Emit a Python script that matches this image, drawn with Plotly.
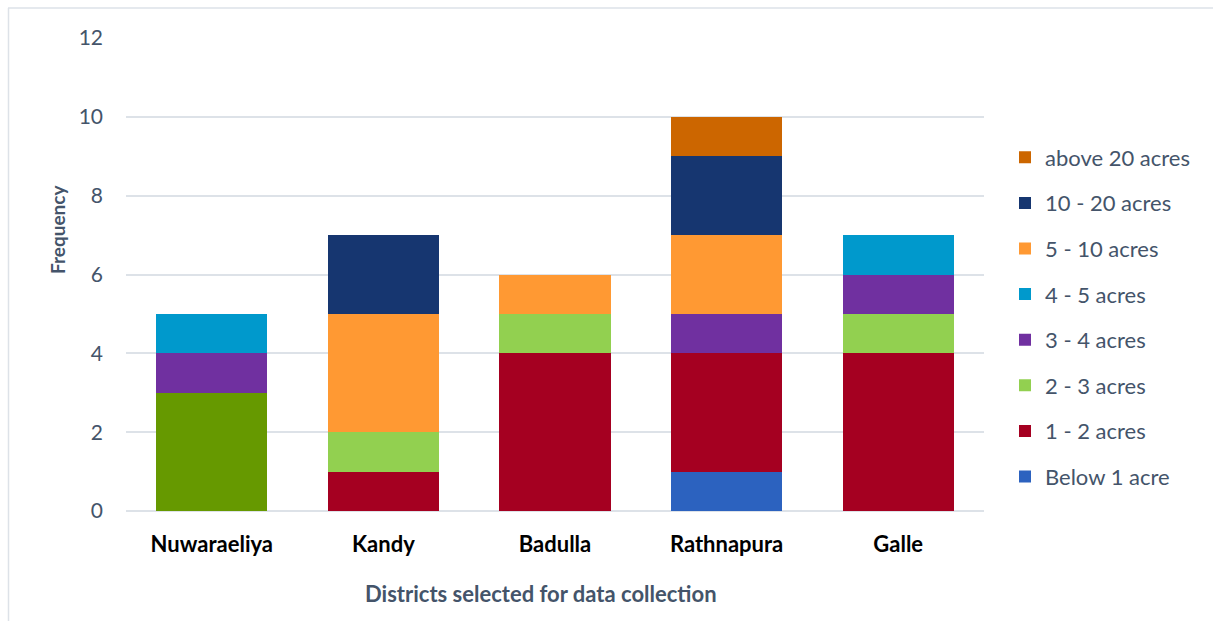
import plotly.graph_objects as go

districts = ["Nuwaraeliya", "Kandy", "Badulla", "Rathnapura", "Galle"]

below_1 = [0, 0, 0, 1, 0]
acres_1_2 = [0, 1, 4, 3, 4]
acres_2_3 = [3, 1, 1, 0, 1]
acres_3_4 = [1, 0, 0, 1, 1]
acres_4_5 = [1, 0, 0, 0, 1]
acres_5_10 = [0, 3, 1, 2, 0]
acres_10_20 = [0, 2, 0, 2, 0]
above_20 = [0, 0, 0, 1, 0]

series_names = ["Below 1 acre", "1 - 2 acres", "2 - 3 acres", "3 - 4 acres",
                "4 - 5 acres", "5 - 10 acres", "10 - 20 acres", "above 20 acres"]
series_values = [below_1, acres_1_2, acres_2_3, acres_3_4,
                 acres_4_5, acres_5_10, acres_10_20, above_20]
series_colors = ["#2C62BF", "#A50021", "#92D050", "#7030A0",
                 "#0099CC", "#FF9933", "#163670", "#CC6600"]

# district whose 2 - 3 acres segment is drawn in a deeper green
highlight_district = "Nuwaraeliya"
highlight_color = "#669900"

yticks = [0, 2, 4, 6, 8, 10, 12]

FONT = "Lato, Calibri, sans-serif"
SLATE = "#44546A"
GRID = "#DDE2E8"

# plot-area geometry in pixels
L, R, T, B = 126, 984, 38, 511
W, H = R - L, B - T


def px_x(p):
    return (p - L) / W


def px_y(p):
    return (B - p) / H


fig = go.Figure()
n = len(series_names)
for i, (name, vals, col) in enumerate(zip(series_names, series_values, series_colors)):
    if name == "2 - 3 acres":
        hi = [v if d == highlight_district else 0 for d, v in zip(districts, vals)]
        fig.add_trace(go.Bar(
            name=name, x=districts, y=hi,
            marker=dict(color=highlight_color, line=dict(width=0)),
            showlegend=False, hoverinfo="x+y+name",
        ))
        vals = [0 if d == highlight_district else v for d, v in zip(districts, vals)]
    fig.add_trace(go.Bar(
        name=name, x=districts, y=vals,
        marker=dict(color=col, line=dict(width=0)),
        legendgroup=f"g{i}",
        legendrank=(n - i) * 10,
        hoverinfo="x+y+name",
    ))

fig.update_layout(
    barmode="stack",
    bargap=0.353,
    width=1214, height=621,
    margin=dict(l=L, r=1214 - R, t=T, b=621 - B),
    paper_bgcolor="white",
    plot_bgcolor="white",
    font=dict(family=FONT, color=SLATE, size=22),
    showlegend=True,
    legend=dict(
        tracegroupgap=14,
        x=px_x(1005), xanchor="left",
        y=px_y(317), yanchor="middle",
        font=dict(size=22, color=SLATE, family=FONT),
        itemwidth=30,
    ),
    xaxis=dict(
        showgrid=False, showline=False, zeroline=False,
        tickfont=dict(family=FONT, size=22, color="#000000", weight="bold"),
        ticklabelstandoff=18,
    ),
    yaxis=dict(
        range=[0, 12], tickvals=yticks,
        showgrid=True, gridcolor=GRID, gridwidth=1.5,
        zeroline=True, zerolinecolor=GRID, zerolinewidth=1.5,
        showline=False,
        tickfont=dict(family=FONT, size=21, color=SLATE),
        ticklabelstandoff=22,
    ),
    annotations=[
        dict(text="<b>Frequency</b>", xref="paper", yref="paper",
             x=px_x(57), y=px_y(230), xanchor="center", yanchor="middle",
             textangle=-90, showarrow=False,
             font=dict(family=FONT, size=19, color=SLATE)),
        dict(text="<b>Districts selected for data collection</b>",
             xref="paper", yref="paper",
             x=px_x(541), y=px_y(593), xanchor="center", yanchor="middle",
             showarrow=False,
             font=dict(family=FONT, size=22, color=SLATE)),
    ],
    shapes=[
        dict(type="line", xref="paper", yref="paper",
             x0=px_x(8), x1=px_x(1213), y0=px_y(8), y1=px_y(8),
             line=dict(color=GRID, width=1.5)),
        dict(type="line", xref="paper", yref="paper",
             x0=px_x(8.5), x1=px_x(8.5), y0=px_y(8), y1=px_y(625),
             line=dict(color=GRID, width=1.5)),
    ],
)

fig.write_html("out.html")
